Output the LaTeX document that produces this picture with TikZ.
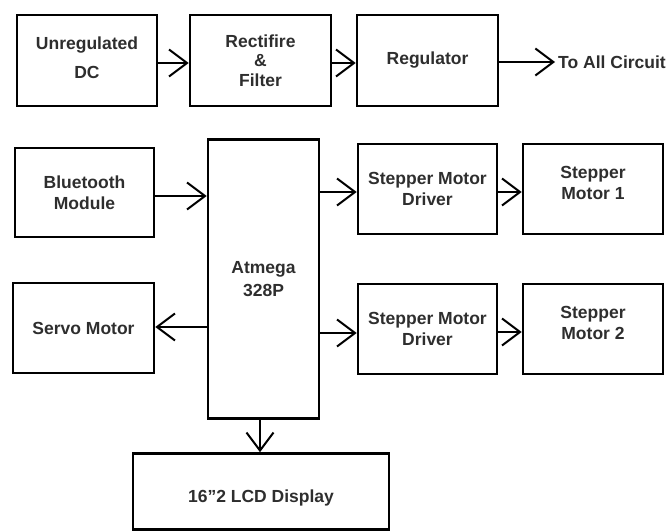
\documentclass[tikz,border=0pt]{standalone}
\usepackage{fontspec}
\setmainfont{Liberation Sans}
\usetikzlibrary{arrows.meta}
\begin{document}
\begin{tikzpicture}[x=1pt,y=-1pt,
  blk/.style={draw=black, line width=2.6pt, rectangle, inner sep=0pt, align=center,
    font=\fontsize{17.5}{21}\selectfont\bfseries, text=black!82},
  arr/.style={draw=black, line width=2pt, -{Straight Barb[length=18pt,width=27pt,line width=2pt]}},
  lbl/.style={font=\fontsize{17.5}{21}\selectfont\bfseries, text=black!82, inner sep=0pt}]
\useasboundingbox (0,0) rectangle (669,532);
% top row
\node[blk, minimum width=140pt, minimum height=91pt, font=\fontsize{17.5}{29}\selectfont\bfseries] (unreg) at (87,60.5) {Unregulated\\DC\\[-23pt]};
\node[blk, minimum width=141pt, minimum height=91pt, font=\fontsize{17.5}{19.5}\selectfont\bfseries] (rect) at (260.5,60.5) {Rectifire\\\&\\Filter};
\node[blk, minimum width=141pt, minimum height=91pt] (reg) at (427.5,60.5) {Regulator};
\coordinate (out) at (555,62);
\node[lbl, anchor=west] (all) at (558,62) {To All Circuit};
% middle rows
\node[blk, minimum width=139pt, minimum height=89pt] (bt) at (84.5,192.5) {Bluetooth\\Module};
\node[blk, minimum width=111pt, minimum height=279pt, font=\fontsize{17.5}{23}\selectfont\bfseries] (atm) at (263.5,279) {Atmega\\328P};
\node[blk, minimum width=139pt, minimum height=90pt] (smd1) at (427.5,189) {Stepper Motor\\Driver};
\node[blk, minimum width=140pt, minimum height=90pt] (sm1) at (593,189) {Stepper\\Motor 1\\[-9pt]};
\node[blk, minimum width=141pt, minimum height=90pt] (servo) at (83.5,328) {Servo Motor};
\node[blk, minimum width=139pt, minimum height=90pt] (smd2) at (427.5,329) {Stepper Motor\\Driver};
\node[blk, minimum width=140pt, minimum height=90pt] (sm2) at (593,329) {Stepper\\Motor 2\\[-9pt]};
\node[blk, minimum width=256pt, minimum height=76pt] (lcd) at (261,491.5) {\raisebox{-6pt}[\height][\depth]{16\symbol{34}2 LCD Display}};
% connectors
\draw[arr] (unreg.east |- 0,63) -- (rect.west |- 0,63);
\draw[arr] (rect.east |- 0,63) -- (reg.west |- 0,63);
\draw[arr] (reg.east |- out) -- (out);
\draw[arr] (bt.east |- 0,196) -- (atm.west |- 0,196);
\draw[arr] (atm.east |- 0,192) -- (smd1.west |- 0,192);
\draw[arr] (smd1.east |- 0,192) -- (sm1.west |- 0,192);
\draw[arr] (atm.west |- 0,327) -- (servo.east |- 0,327);
\draw[arr] (atm.east |- 0,333) -- (smd2.west |- 0,333);
\draw[arr] (smd2.east |- 0,332) -- (sm2.west |- 0,332);
\draw[arr] (atm.south -| 260,0) -- (lcd.north -| 260,0);
\end{tikzpicture}
\end{document}
